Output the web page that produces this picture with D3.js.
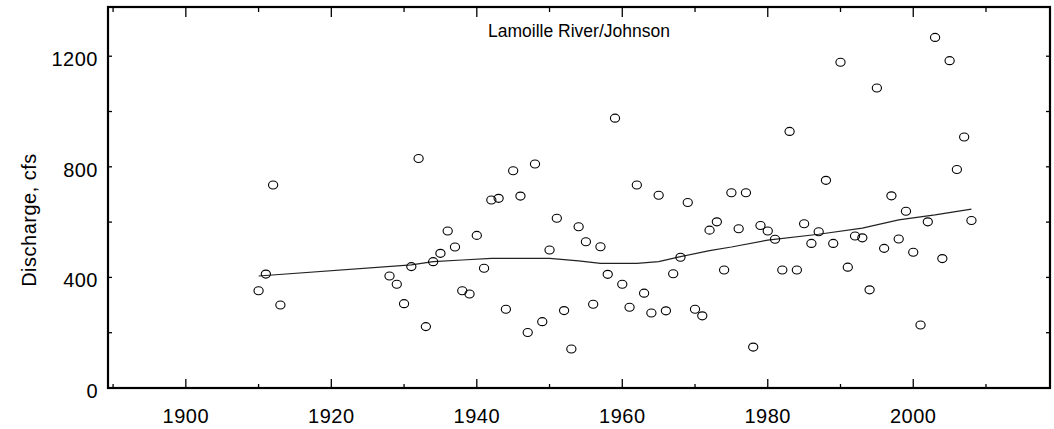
<!DOCTYPE html>
<html><head><meta charset="utf-8">
<script src="https://cdn.jsdelivr.net/npm/d3@7"></script>
<style>body{margin:0;background:#fff}svg{display:block}text{font-family:"Liberation Sans",Arial,sans-serif;fill:#000}</style>
</head><body><svg id="c" width="1054" height="429"></svg>
<script>
const years = [1910,1911,1912,1913,1928,1929,1930,1931,1932,1933,1934,1935,1936,1937,1938,1939,1940,1941,1942,1943,1944,1945,1946,1947,1948,1949,1950,1951,1952,1953,1954,1955,1956,1957,1958,1959,1960,1961,1962,1963,1964,1965,1966,1967,1968,1969,1970,1971,1972,1973,1974,1975,1976,1977,1978,1979,1980,1981,1982,1983,1984,1985,1986,1987,1988,1989,1990,1991,1992,1993,1994,1995,1996,1997,1998,1999,2000,2001,2002,2003,2004,2005,2006,2007,2008];
const discharge = [352,412,734,300,405,375,305,439,830,222,457,487,568,510,352,340,552,433,680,686,285,786,694,201,810,240,499,614,280,141,583,529,303,511,411,976,375,292,734,343,271,697,279,413,473,671,285,261,571,601,427,706,576,706,148,588,568,538,427,928,427,594,523,565,751,523,1178,437,550,543,355,1085,505,695,539,639,491,228,601,1268,468,1184,790,908,606];
const smoothYears = [1910,1931,1934,1938,1942,1950,1954,1957,1962,1965,1968,1972,1975,1980,1987,1993,1998,2003,2008];
const smoothValues = [405,445,457,463,469,469,460,451,451,457,475,497,510,535,556,578,608,626,647];
const xMajor = [1900,1920,1940,1960,1980,2000];
const xMinor = [1890,1900,1910,1920,1930,1940,1950,1960,1970,1980,1990,2000,2010];
const yMajor = [0,400,800,1200];
const yMinor = [0,200,400,600,800,1000,1200];
const title = "Lamoille River/Johnson";
const yTitle = "Discharge, cfs";

const L=108,R=1050,T=7,B=388;
const svg=d3.select("#c");
const x=d3.scaleLinear().domain([1889.3,2018.8]).range([L,R]);
const y=d3.scaleLinear().domain([0,1378]).range([B,T]);

// ticks (inward) on all four sides
const g=svg.append("g").attr("stroke","#000").attr("stroke-width",1.3);
xMinor.forEach(v=>{
  const len = xMajor.includes(v)?9:4;
  g.append("line").attr("x1",x(v)).attr("x2",x(v)).attr("y1",B).attr("y2",B-len);
  g.append("line").attr("x1",x(v)).attr("x2",x(v)).attr("y1",T).attr("y2",T+(xMajor.includes(v)?10:5));
});
yMinor.forEach(v=>{
  g.append("line").attr("x1",L).attr("x2",L+4).attr("y1",y(v)).attr("y2",y(v));
  g.append("line").attr("x1",R).attr("x2",R-4).attr("y1",y(v)).attr("y2",y(v));
});
// frame
svg.append("rect").attr("x",L).attr("y",T).attr("width",R-L).attr("height",B-T)
  .attr("fill","none").attr("stroke","#000").attr("stroke-width",2.2);

// tick labels
svg.append("g").selectAll("text").data(xMajor).join("text")
  .attr("x",d=>x(d)).attr("y",423).attr("text-anchor","middle")
  .attr("font-size",20).attr("letter-spacing","0.5px").text(d=>d);
svg.append("g").selectAll("text").data(yMajor).join("text")
  .attr("x",98).attr("y",d=>y(d)+10).attr("text-anchor","end")
  .attr("font-size",20).attr("letter-spacing","0.5px").text(d=>d);

// titles
svg.append("text").attr("x",(L+R)/2).attr("y",37).attr("text-anchor","middle")
  .attr("font-size",17.5).text(title);
svg.append("text").attr("transform","translate(36,220) rotate(-90)")
  .attr("text-anchor","middle").attr("font-size",20).attr("letter-spacing","0.5px").text(yTitle);

// smooth line
const sm=smoothYears.map((d,i)=>[d,smoothValues[i]]);
svg.append("path").datum(sm).attr("fill","none").attr("stroke","#222").attr("stroke-width",1.2)
  .attr("d",d3.line().x(d=>x(d[0])).y(d=>y(d[1])));

// points
const pts=years.map((d,i)=>[d,discharge[i]]);
svg.append("g").selectAll("ellipse").data(pts).join("ellipse")
  .attr("cx",d=>x(d[0])).attr("cy",d=>y(d[1])).attr("rx",4.6).attr("ry",4)
  .attr("fill","none").attr("stroke","#000").attr("stroke-width",1.1);
</script></body></html>
